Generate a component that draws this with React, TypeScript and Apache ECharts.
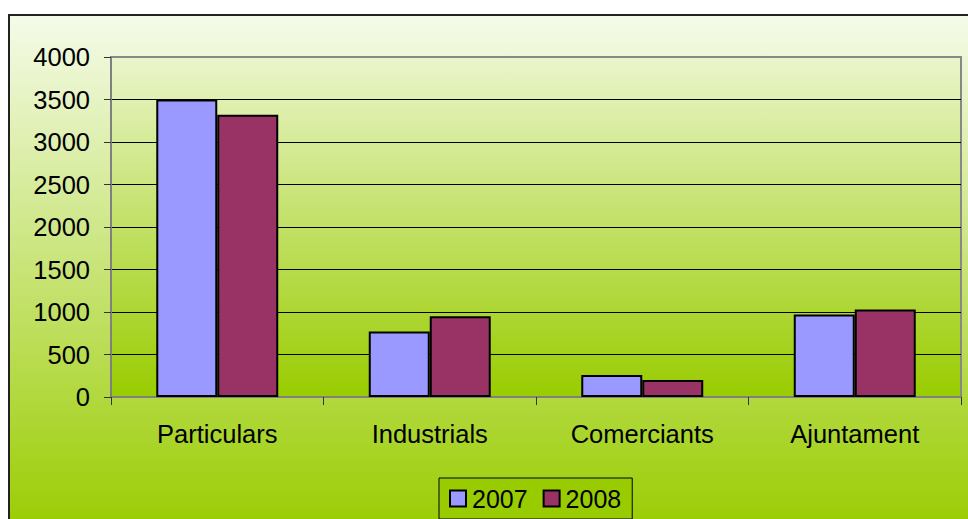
import React, { useEffect, useRef } from "react";
import * as echarts from "echarts";

const categories = ["Particulars", "Industrials", "Comerciants", "Ajuntament"];
const values2007 = [3500, 770, 260, 970];
const values2008 = [3320, 950, 200, 1030];
const seriesNames = ["2007", "2008"];
const yTicks = { min: 0, max: 4000, interval: 500 };

const FONT = "'Liberation Sans', Arial, sans-serif";

export default function App() {
  const ref = useRef<HTMLDivElement>(null);

  useEffect(() => {
    document.body.style.margin = "0";
    document.body.style.overflow = "hidden";
    const chart = echarts.init(ref.current!, null, { renderer: "svg" });
    chart.setOption({
      animation: false,
      graphic: [
        {
          type: "rect",
          z: -100,
          silent: true,
          shape: { x: 9, y: 15, width: 970, height: 520 },
          style: {
            fill: new echarts.graphic.LinearGradient(0, 0, 0, 1, [
              { offset: 0, color: "#f5fbe9" },
              { offset: 1, color: "#99cc00" },
            ]),
            stroke: "#222",
            lineWidth: 2,
          },
        },
      ],
      grid: {
        left: 111,
        top: 57,
        width: 850,
        height: 340,
        show: true,
        borderColor: "#888888",
        borderWidth: 2,
        backgroundColor: new echarts.graphic.LinearGradient(0, 0, 0, 1, [
          { offset: 0, color: "#eaf5cb" },
          { offset: 1, color: "#99cc00" },
        ]),
      },
      legend: {
        data: seriesNames,
        left: 439,
        top: 478,
        padding: [8, 11, 8, 10],
        backgroundColor: "#99cc00",
        borderColor: "#000",
        borderWidth: 1,
        itemWidth: 16,
        itemHeight: 16,
        itemGap: 15,
        icon: "rect",
        itemStyle: { borderColor: "#000", borderWidth: 2 },
        textStyle: { fontFamily: FONT, fontSize: 25, color: "#000", padding: [0, 0, 0, 1] },
      },
      xAxis: {
        type: "category",
        data: categories,
        axisLine: { show: true, lineStyle: { color: "#808080", width: 2 } },
        axisTick: { show: true, length: 8, lineStyle: { color: "#333" } },
        axisLabel: { fontFamily: FONT, fontSize: 25.5, color: "#000", margin: 24 },
      },
      yAxis: {
        type: "value",
        min: yTicks.min,
        max: yTicks.max,
        interval: yTicks.interval,
        axisLine: { show: true, lineStyle: { color: "#808080", width: 2 } },
        axisTick: { show: true, length: 7, lineStyle: { color: "#333" } },
        axisLabel: {
          fontFamily: FONT,
          fontSize: 25.5,
          color: "#000",
          margin: 21,
          formatter: (v: number) => String(v),
        },
        splitLine: {
          show: true,
          showMinLine: false,
          showMaxLine: false,
          lineStyle: { color: "#000", width: 1 },
        },
      },
      series: [
        {
          name: seriesNames[0],
          type: "bar",
          data: values2007,
          barGap: "0%",
          barCategoryGap: "42.6%",
          itemStyle: { color: "#9999ff", borderColor: "#000", borderWidth: 2 },
        },
        {
          name: seriesNames[1],
          type: "bar",
          data: values2008,
          barGap: "0%",
          barCategoryGap: "42.6%",
          itemStyle: { color: "#993366", borderColor: "#000", borderWidth: 2 },
        },
      ],
    });
    return () => chart.dispose();
  }, []);

  return <div ref={ref} style={{ width: 968, height: 519 }} />;
}
